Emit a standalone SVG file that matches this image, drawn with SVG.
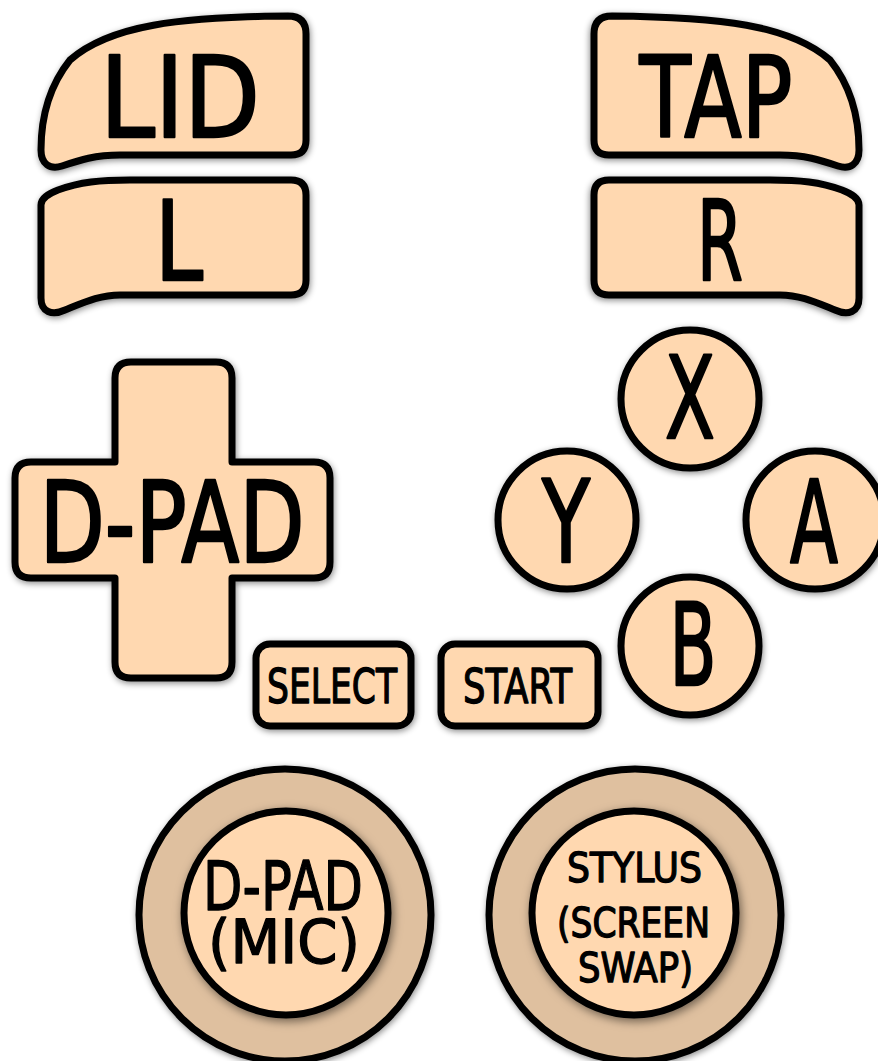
<svg xmlns="http://www.w3.org/2000/svg" width="878" height="1061" viewBox="0 0 878 1061">
<defs>
<filter id="sh" x="-20%" y="-20%" width="140%" height="140%">
<feDropShadow dx="1" dy="2" stdDeviation="3" flood-color="#000" flood-opacity="0.45"/>
</filter>
<filter id="sh2" x="-20%" y="-20%" width="140%" height="140%">
<feDropShadow dx="2" dy="3" stdDeviation="5" flood-color="#000" flood-opacity="0.5"/>
</filter>
<style>
.btn{fill:#FFD8B0;stroke:#000;stroke-width:7;stroke-linejoin:round}
.ring{fill:#DFC09F;stroke:#000;stroke-width:7}
.t{font-family:"DejaVu Sans","Liberation Sans",sans-serif;fill:#000;text-anchor:middle;stroke:#000;stroke-linejoin:round;stroke-linecap:round;stroke-width:2.5}
.s{stroke-width:1.4}
</style>
</defs>
<rect width="878" height="1061" fill="#fff"/>

<g id="lid">
<path class="btn" filter="url(#sh)" d="M 288,16 Q 306,16 306,34 L 306,140 Q 306,155 291,155 L 120,155 C 95,155 80,160 62,166 C 50,170 41,164 41,150 C 41,115 50,85 70,60 C 110,25 180,17 288,16 Z"/>
<text class="t" x="180" y="137" font-size="112" textLength="160" lengthAdjust="spacingAndGlyphs">LID</text>
</g>
<g id="l">
<path class="btn" filter="url(#sh)" d="M 58,190 C 80,182 100,180 130,180 L 291,180 Q 306,180 306,195 L 306,280 Q 306,295 291,295 L 120,295 C 100,295 85,302 65,310 C 52,316 41,312 41,298 L 41,205 C 41,198 48,194 58,190 Z"/>
<text class="t" x="179" y="280" font-size="110" textLength="48" lengthAdjust="spacingAndGlyphs">L</text>
</g>
<g id="tap">
<path class="btn" filter="url(#sh)" transform="translate(900,0) scale(-1,1)" d="M 288,16 Q 306,16 306,34 L 306,140 Q 306,155 291,155 L 120,155 C 95,155 80,160 62,166 C 50,170 41,164 41,150 C 41,115 50,85 70,60 C 110,25 180,17 288,16 Z"/>
<text class="t" x="716" y="137" font-size="112" textLength="153" lengthAdjust="spacingAndGlyphs">TAP</text>
</g>
<g id="r">
<path class="btn" filter="url(#sh)" transform="translate(900,0) scale(-1,1)" d="M 58,190 C 80,182 100,180 130,180 L 291,180 Q 306,180 306,195 L 306,280 Q 306,295 291,295 L 120,295 C 100,295 85,302 65,310 C 52,316 41,312 41,298 L 41,205 C 41,198 48,194 58,190 Z"/>
<text class="t" x="720" y="280" font-size="110" textLength="46" lengthAdjust="spacingAndGlyphs">R</text>
</g>

<g id="dpad">
<path class="btn" filter="url(#sh)" d="M 131,362 H 216 Q 232,362 232,378 V 462 H 314 Q 330,462 330,478 V 562 Q 330,578 314,578 H 232 V 662 Q 232,678 216,678 H 131 Q 115,678 115,662 V 578 H 31 Q 15,578 15,562 V 478 Q 15,462 31,462 H 115 V 378 Q 115,362 131,362 Z"/>
<text class="t" x="172" y="562" font-size="112" textLength="265" lengthAdjust="spacingAndGlyphs">D-PAD</text>
</g>

<g id="x">
<circle class="btn" filter="url(#sh)" cx="690" cy="399" r="69"/>
<text class="t" x="690" y="438" font-size="114" textLength="50" lengthAdjust="spacingAndGlyphs">X</text>
</g>
<g id="y">
<circle class="btn" filter="url(#sh)" cx="567" cy="520" r="69"/>
<text class="t" x="566" y="562" font-size="114" textLength="48" lengthAdjust="spacingAndGlyphs">Y</text>
</g>
<g id="a">
<circle class="btn" filter="url(#sh)" cx="815" cy="520" r="69"/>
<text class="t" x="814" y="562" font-size="114" textLength="48" lengthAdjust="spacingAndGlyphs">A</text>
</g>
<g id="b">
<circle class="btn" filter="url(#sh)" cx="690" cy="646" r="69"/>
<text class="t" x="693" y="685" font-size="114" textLength="47" lengthAdjust="spacingAndGlyphs">B</text>
</g>

<g id="select">
<rect class="btn" filter="url(#sh)" x="256" y="644" width="155" height="82" rx="14"/>
<text class="t s" x="332" y="703" font-size="48" textLength="130" lengthAdjust="spacingAndGlyphs">SELECT</text>
</g>
<g id="start">
<rect class="btn" filter="url(#sh)" x="441" y="644" width="157" height="82" rx="14"/>
<text class="t s" x="517.5" y="703" font-size="48" textLength="109" lengthAdjust="spacingAndGlyphs">START</text>
</g>

<g id="stick-left">
<circle class="ring" filter="url(#sh)" cx="285" cy="915" r="146"/>
<circle class="btn" filter="url(#sh2)" cx="286" cy="913" r="102"/>
<text class="t s"><tspan x="283" y="910" font-size="68" textLength="160" lengthAdjust="spacingAndGlyphs">D-PAD</tspan><tspan x="284" y="963" font-size="60" textLength="152" lengthAdjust="spacingAndGlyphs">(MIC)</tspan></text>
</g>
<g id="stick-right">
<circle class="ring" filter="url(#sh)" cx="635" cy="915" r="146"/>
<circle class="btn" filter="url(#sh2)" cx="634" cy="913" r="102"/>
<text class="t s" font-size="41"><tspan x="634.5" y="882" textLength="135" lengthAdjust="spacingAndGlyphs">STYLUS</tspan><tspan x="633.5" y="937" textLength="153" lengthAdjust="spacingAndGlyphs">(SCREEN</tspan><tspan x="635.5" y="982" textLength="115" lengthAdjust="spacingAndGlyphs">SWAP)</tspan></text>
</g>

<g id="connectors"></g>
</svg>
